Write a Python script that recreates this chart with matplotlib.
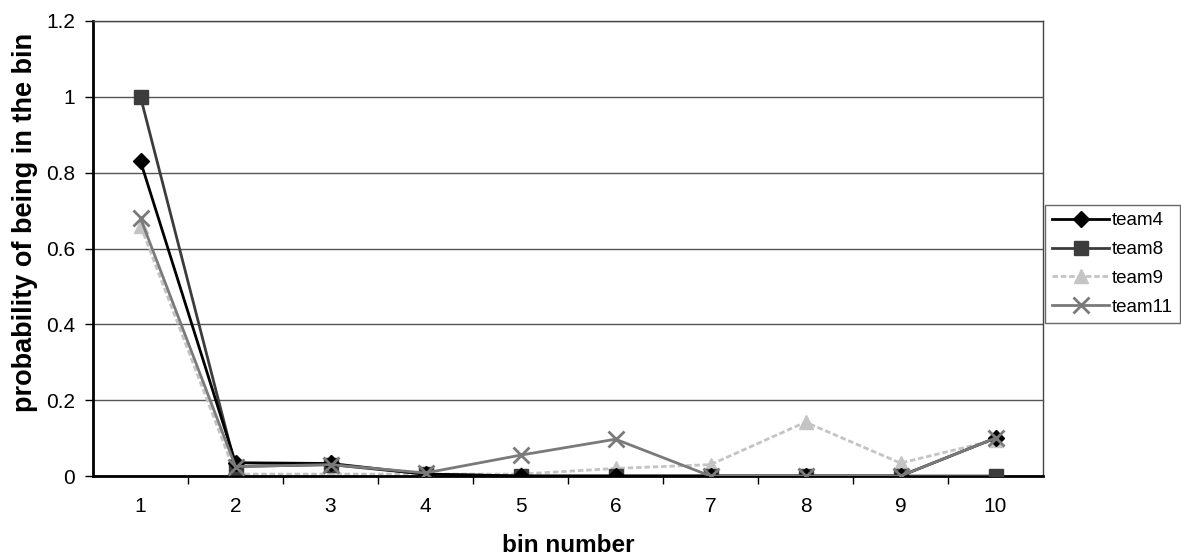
import matplotlib.pyplot as plt
import numpy as np

bins = [1, 2, 3, 4, 5, 6, 7, 8, 9, 10]
team4 = [0.83, 0.035, 0.033, 0.005, 0, 0, 0, 0, 0, 0.1]
team8 = [1.0, 0.025, 0.03, 0.005, 0, 0, 0, 0, 0, 0]
team9 = [0.66, 0.005, 0.005, 0.005, 0.005, 0.02, 0.03, 0.142, 0.034, 0.095]
team11 = [0.68, 0.025, 0.03, 0.008, 0.055, 0.097, 0, 0, 0, 0.1]

plt.rcParams['font.family'] = ['Liberation Sans', 'DejaVu Sans']
fig = plt.figure(figsize=(11.81, 5.58), dpi=100)
ax = fig.add_axes([93 / 1181, 1 - 476 / 558, 950 / 1181, 455 / 558])

ax.plot(bins, team4, color="black", lw=2, marker="D", ms=8, label="team4", zorder=4)
ax.plot(bins, team8, color="#3c3c3c", lw=2, marker="s", ms=10, label="team8", zorder=3)
ax.plot(bins, team9, color="#c4c4c4", lw=2, ls=(0, (2, 1)), marker="^", ms=10, label="team9", zorder=2)
ax.plot(bins, team11, color="#7a7a7a", lw=2, marker="x", ms=11, mew=2, label="team11", zorder=5)

ax.set_xlim(0.5, 10.5)
ax.set_ylim(0, 1.2)
ax.set_yticks(np.arange(0, 1.21, 0.2))
ax.set_yticklabels(["0", "0.2", "0.4", "0.6", "0.8", "1", "1.2"])
ax.set_xticks(bins)
ax.set_xticks(np.arange(1.5, 10.5, 1), minor=True)
ax.tick_params(axis="x", which="major", length=0, pad=15, labelsize=15)
ax.tick_params(axis="x", which="minor", length=6, width=1)
ax.tick_params(axis="y", length=6, width=1, labelsize=15, pad=7)
ax.grid(axis="y", color="#555555", lw=1)
ax.set_axisbelow(True)
for s in ["left", "bottom"]:
    ax.spines[s].set_linewidth(2)
for s in ["top", "right"]:
    ax.spines[s].set_linewidth(1)
    ax.spines[s].set_color("#444444")

ax.set_xlabel("bin number", fontsize=17.5, fontweight="bold", labelpad=13)
ax.set_ylabel("probability of being in the bin", fontsize=19.5, fontweight="bold")
ax.yaxis.set_label_coords(-0.058, 0.558)

leg = ax.legend(loc="upper left", bbox_to_anchor=(1.002, 0.596), fontsize=13.5, frameon=True,
                fancybox=False, edgecolor="#444444", borderaxespad=0, handlelength=3.0,
                handletextpad=0.15, labelspacing=0.62, borderpad=0.4)
leg.get_frame().set_linewidth(1)

fig.savefig("out.png", dpi=100)
